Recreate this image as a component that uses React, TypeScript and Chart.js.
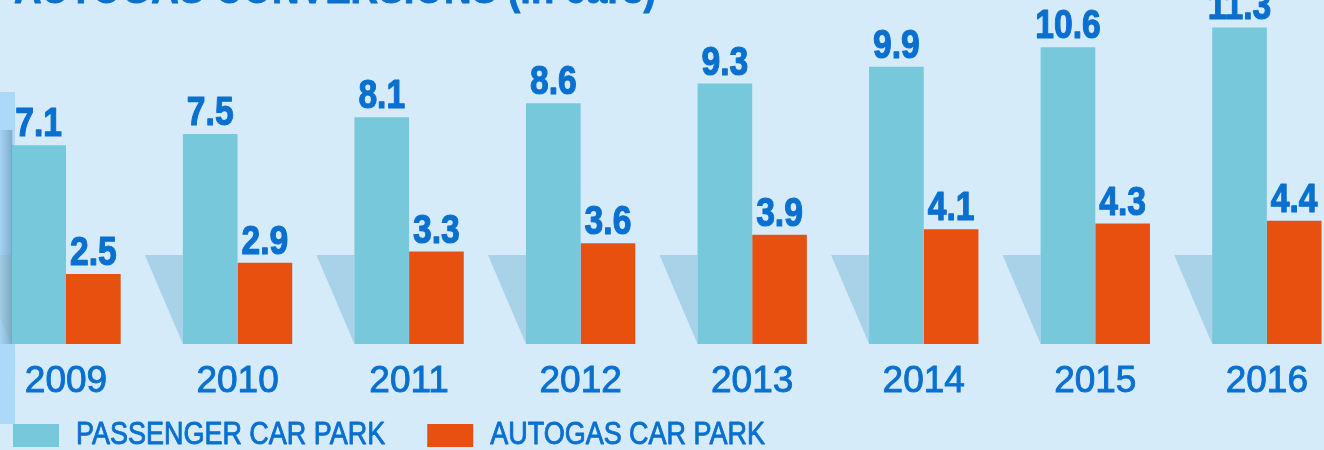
import React, { useEffect, useRef } from "react";
import { Chart, registerables } from "chart.js";

Chart.register(...registerables);

const categories = ["2009", "2010", "2011", "2012", "2013", "2014", "2015", "2016"];
const passengerCarPark = [7.1, 7.5, 8.1, 8.6, 9.3, 9.9, 10.6, 11.3];
const autogasCarPark = [2.5, 2.9, 3.3, 3.6, 3.9, 4.1, 4.3, 4.4];
const seriesLabels = ["PASSENGER CAR PARK", "AUTOGAS CAR PARK"];
const titleText = "AUTOGAS CONVERSIONS (in cars)";

const BG = "#d5ebfa";
const TEAL = "#77c8db";
const ORANGE = "#e8500f";
const BLUE = "#0a70cf";
const SHADOW = "#a8d2e7";
const STRIP = "#acdaf6";
const FONT = "'Liberation Sans', Arial, sans-serif";

function narrowText(ctx: any, text: string, x: number, y: number, align: string, sx: number, stroke: number) {
  ctx.save();
  ctx.translate(x, y);
  ctx.scale(sx, 1);
  ctx.textAlign = align;
  ctx.textBaseline = "alphabetic";
  ctx.fillText(text, 0, 0);
  if (stroke > 0) {
    ctx.strokeStyle = ctx.fillStyle;
    ctx.lineWidth = stroke;
    ctx.lineJoin = "round";
    ctx.strokeText(text, 0, 0);
  }
  ctx.restore();
}

const decorPlugin = {
  id: "decor",
  beforeDraw(chart: any) {
    const ctx = chart.ctx;
    ctx.save();
    ctx.fillStyle = BG;
    ctx.fillRect(0, 0, chart.width, chart.height);
    ctx.fillStyle = STRIP;
    ctx.fillRect(0, 92, 15, 332);
    ctx.fillStyle = BLUE;
    ctx.font = `bold 46px ${FONT}`;
    narrowText(ctx, titleText, 14, 3, "left", 0.83, 1);
    ctx.restore();
  },
  beforeDatasetsDraw(chart: any) {
    const ctx = chart.ctx;
    const area = chart.chartArea;
    const meta = chart.getDatasetMeta(0);
    ctx.save();
    meta.data.forEach((el: any, i: number) => {
      const left = el.x - el.width / 2;
      const topY = area.bottom - 89;
      ctx.fillStyle = SHADOW;
      ctx.beginPath();
      ctx.moveTo(left - 38, topY);
      ctx.lineTo(left, topY);
      ctx.lineTo(left, area.bottom);
      ctx.closePath();
      ctx.fill();
      if (i === 0) {
        const g = ctx.createLinearGradient(0, 0, left + 1, 0);
        g.addColorStop(0, "rgba(30,80,120,0.05)");
        g.addColorStop(1, "rgba(30,80,120,0.32)");
        ctx.fillStyle = g;
        ctx.fillRect(0, 130, left + 1, area.bottom - 130);
        ctx.fillStyle = "rgba(20,90,120,0.8)";
        ctx.fillRect(left, el.y, 2, area.bottom - el.y);
      }
    });
    ctx.restore();
  },
  afterDatasetsDraw(chart: any) {
    const ctx = chart.ctx;
    ctx.save();
    ctx.fillStyle = BLUE;
    ctx.font = `bold 41px ${FONT}`;
    chart.data.datasets.forEach((ds: any, di: number) => {
      const meta = chart.getDatasetMeta(di);
      meta.data.forEach((el: any, i: number) => {
        narrowText(ctx, Number(ds.data[i]).toFixed(1), el.x, el.y - 9, "center", 0.82, 1.2);
      });
    });
    // legend
    ctx.font = `31px ${FONT}`;
    const sx = 0.87;
    let x = 13;
    chart.data.datasets.forEach((ds: any) => {
      ctx.fillStyle = ds.backgroundColor;
      ctx.fillRect(x, 424, 46, 23);
      ctx.fillStyle = BLUE;
      const tx = x + 63;
      narrowText(ctx, ds.label, tx, 444, "left", sx, 0.9);
      x = tx + ctx.measureText(ds.label).width * sx + 42;
    });
    ctx.restore();
  },
};

export default function App() {
  const ref = useRef<HTMLCanvasElement | null>(null);
  useEffect(() => {
    if (!ref.current) return;
    const chart = new Chart(ref.current, {
      type: "bar",
      data: {
        labels: categories,
        datasets: [
          {
            label: seriesLabels[0],
            data: passengerCarPark,
            backgroundColor: TEAL,
            categoryPercentage: 0.6374,
            barPercentage: 1,
            clip: false,
          } as any,
          {
            label: seriesLabels[1],
            data: autogasCarPark,
            backgroundColor: ORANGE,
            categoryPercentage: 0.6374,
            barPercentage: 1,
            clip: false,
          } as any,
        ],
      },
      options: {
        animation: false,
        responsive: true,
        maintainAspectRatio: false,
        layout: { padding: { left: 66, right: 50, top: 8, bottom: 0 } },
        plugins: {
          legend: { display: false },
          title: { display: false },
          tooltip: { enabled: false },
        },
        scales: {
          x: {
            offset: false,
            grid: { display: false, drawTicks: false },
            border: { display: false },
            afterFit: (scale: any) => {
              scale.height = 106;
            },
            ticks: {
              autoSkip: false,
              maxRotation: 0,
              padding: 16,
              color: BLUE,
              textStrokeColor: BLUE,
              textStrokeWidth: 0.9,
              font: { family: FONT, size: 37 },
            },
          },
          y: {
            display: false,
            min: 0,
            max: 12,
          },
        },
      },
      plugins: [decorPlugin],
    });
    return () => chart.destroy();
  }, []);
  return (
    <div style={{ position: "absolute", left: 0, top: 0, width: 1324, height: 450, background: BG, overflow: "hidden" }}>
      <canvas ref={ref} />
    </div>
  );
}
